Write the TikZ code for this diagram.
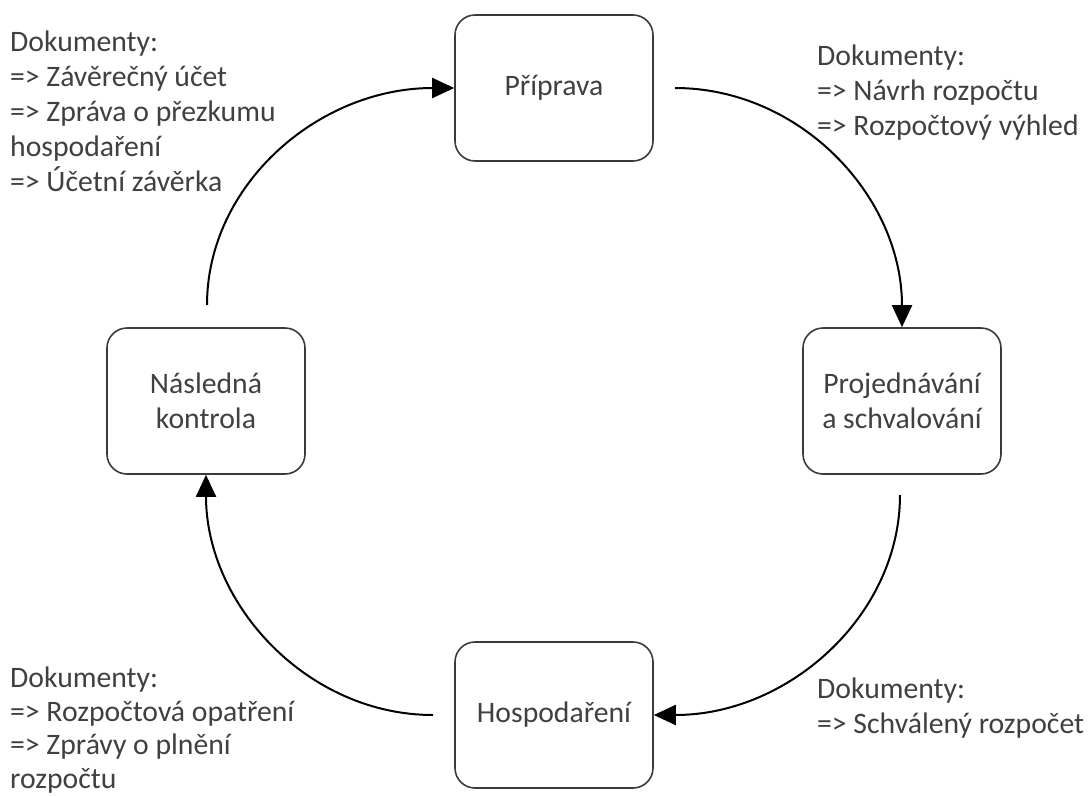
\documentclass[tikz,border=0pt]{standalone}
\usepackage{fontspec}
\setmainfont{Carlito}
\usetikzlibrary{arrows.meta}
\definecolor{txt}{HTML}{404040}
\definecolor{edge}{HTML}{3A3A3A}
\tikzset{
  stage/.style={draw=edge, line width=1.6pt, rounded corners=20pt, minimum width=198pt, minimum height=146pt, align=center, text=txt, font=\fontsize{29.7pt}{35pt}\selectfont, inner sep=0pt},
  docs/.style={anchor=north west, align=left, text=txt, font=\fontsize{29.7pt}{35pt}\selectfont, inner sep=0pt},
  flow/.style={line width=2pt, black, -{Triangle[length=22pt, width=20pt]}}
}
\begin{document}
\begin{tikzpicture}[x=1pt,y=-1pt]
\useasboundingbox (0,0) rectangle (1088,796);
\node[stage] (prep) at (554,88) {Příprava};
\node[stage] (proj) at (902,401) {Projednávání\\a schvalování};
\node[stage] (hosp) at (554,715) {Hospodaření};
\node[stage] (nasl) at (206,401) {Následná\\kontrola};

\coordinate (s1) at (207,305);
\coordinate (s2) at (675,88);
\coordinate (s3) at (900,495);
\coordinate (s4) at (433,715);

\draw[flow] (s1) .. controls (207,185) and (318,88) .. (prep.west);
\draw[flow] (s2) .. controls (800,88) and (902,196) .. (proj.north);
\draw[flow] (s3) .. controls (900,615) and (789,715) .. (hosp.east);
\draw[flow] (s4) .. controls (308,715) and (206,605) .. (nasl.south);

\node[docs] (d1) at (10,31) {Dokumenty:\\=> Závěrečný účet\\=> Zpráva o přezkumu\\hospodaření\\=> Účetní závěrka};
\node[docs] (d2) at (817,45) {Dokumenty:\\=> Návrh rozpočtu\\=> Rozpočtový výhled};
\node[docs, font=\fontsize{29.7pt}{33.5pt}\selectfont] (d3) at (10,667) {Dokumenty:\\=> Rozpočtová opatření\\=> Zprávy o plnění\\rozpočtu};
\node[docs] (d4) at (817,678) {Dokumenty:\\=> Schválený rozpočet};
\end{tikzpicture}
\end{document}
